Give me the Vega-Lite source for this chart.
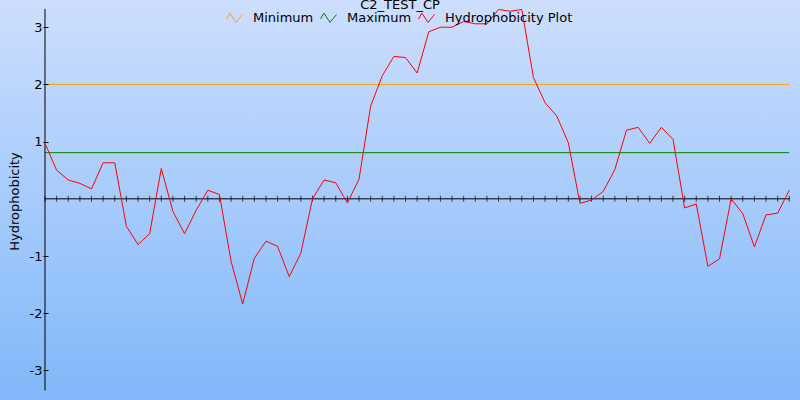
{
  "$schema": "https://vega.github.io/schema/vega-lite/v6.json",
  "width": 800,
  "height": 400,
  "padding": 0,
  "autosize": {"type": "none"},
  "background": "#80b8fa",
  "title": {
    "text": "C2_TEST_CP",
    "orient": "top",
    "anchor": "middle",
    "offset": -12,
    "fontSize": 13,
    "fontWeight": "normal",
    "font": "DejaVu Sans",
    "color": "#000000"
  },
  "config": {
    "view": {"stroke": null},
    "font": "DejaVu Sans"
  },
  "datasets": {
    "hydro": [
      {"pos": 0, "h": 0.97}, {"pos": 1, "h": 0.50}, {"pos": 2, "h": 0.33}, {"pos": 3, "h": 0.27},
      {"pos": 4, "h": 0.175}, {"pos": 5, "h": 0.63}, {"pos": 6, "h": 0.63}, {"pos": 7, "h": -0.48},
      {"pos": 8, "h": -0.80}, {"pos": 9, "h": -0.61}, {"pos": 10, "h": 0.53}, {"pos": 11, "h": -0.22},
      {"pos": 12, "h": -0.61}, {"pos": 13, "h": -0.20}, {"pos": 14, "h": 0.15}, {"pos": 15, "h": 0.075},
      {"pos": 16, "h": -1.09}, {"pos": 17, "h": -1.84}, {"pos": 18, "h": -1.04}, {"pos": 19, "h": -0.74},
      {"pos": 20, "h": -0.83}, {"pos": 21, "h": -1.36}, {"pos": 22, "h": -0.95}, {"pos": 23, "h": 0.0},
      {"pos": 24, "h": 0.33}, {"pos": 25, "h": 0.28}, {"pos": 26, "h": -0.07}, {"pos": 27, "h": 0.34},
      {"pos": 28, "h": 1.62}, {"pos": 29, "h": 2.15}, {"pos": 30, "h": 2.49}, {"pos": 31, "h": 2.47},
      {"pos": 32, "h": 2.20}, {"pos": 33, "h": 2.92}, {"pos": 34, "h": 3.0}, {"pos": 35, "h": 3.0},
      {"pos": 36, "h": 3.10}, {"pos": 37, "h": 3.06}, {"pos": 38, "h": 3.06}, {"pos": 39, "h": 3.31},
      {"pos": 40, "h": 3.28}, {"pos": 41, "h": 3.31}, {"pos": 42, "h": 2.12}, {"pos": 43, "h": 1.68},
      {"pos": 44, "h": 1.45}, {"pos": 45, "h": 0.98}, {"pos": 46, "h": -0.08}, {"pos": 47, "h": -0.02},
      {"pos": 48, "h": 0.13}, {"pos": 49, "h": 0.51}, {"pos": 50, "h": 1.20}, {"pos": 51, "h": 1.25},
      {"pos": 52, "h": 0.97}, {"pos": 53, "h": 1.25}, {"pos": 54, "h": 1.04}, {"pos": 55, "h": -0.16},
      {"pos": 56, "h": -0.09}, {"pos": 57, "h": -1.18}, {"pos": 58, "h": -1.05}, {"pos": 59, "h": 0.0},
      {"pos": 60, "h": -0.26}, {"pos": 61, "h": -0.84}, {"pos": 62, "h": -0.28}, {"pos": 63, "h": -0.25},
      {"pos": 64, "h": 0.15}
    ],
    "limits": [
      {"series": "Minimum", "value": 2},
      {"series": "Maximum", "value": 0.807}
    ],
    "one": [{}]
  },
  "layer": [
    {
      "data": {"name": "one"},
      "mark": {
        "type": "rect",
        "color": {
          "gradient": "linear",
          "x1": 0, "y1": 0, "x2": 0, "y2": 1,
          "stops": [
            {"offset": 0, "color": "#cddefd"},
            {"offset": 1, "color": "#80b8fa"}
          ]
        }
      },
      "encoding": {
        "x": {"datum": -3.869, "type": "quantitative", "scale": {"domain": [-3.869, 64.92], "nice": false, "zero": false}, "axis": null},
        "x2": {"datum": 64.92},
        "y": {
          "datum": -3.517,
          "type": "quantitative",
          "scale": {"domain": [-3.517, 3.476], "nice": false, "zero": false},
          "axis": {
            "title": "Hydrophobicity",
            "values": [-3, -2, -1, 1, 2, 3],
            "labelExpr": "'' + datum.value",
            "offset": -48,
            "zindex": 1,
            "domain": false,
            "grid": false,
            "ticks": true,
            "tickSize": 5,
            "tickColor": "#000000",
            "tickWidth": 1,
            "labelPadding": 1,
            "labelFont": "DejaVu Sans",
            "labelFontSize": 13,
            "labelColor": "#000000",
            "titleFont": "DejaVu Sans",
            "titleFontSize": 13,
            "titleFontWeight": "normal",
            "titleColor": "#000000",
            "titleAngle": -90,
            "titleAlign": "center",
            "titleBaseline": "alphabetic",
            "titleX": -29.5,
            "titleY": 201
          }
        },
        "y2": {"datum": 3.476}
      }
    },
    {
      "data": {"name": "limits"},
      "mark": {"type": "rule", "strokeWidth": 1},
      "encoding": {
        "x": {"datum": 0, "type": "quantitative"},
        "x2": {"datum": 64},
        "y": {"field": "value", "type": "quantitative"},
        "color": {
          "field": "series",
          "type": "nominal",
          "scale": {"domain": ["Minimum", "Maximum", "Hydrophobicity Plot"], "range": ["#ffa500", "#008000", "#ff0000"]},
          "legend": {
            "title": null,
            "orient": "none",
            "direction": "horizontal",
            "legendX": 226,
            "legendY": 9,
            "padding": 0,
            "symbolType": "M-1,0.15L-0.58,-0.58L0.19,0.58L1,-0.41",
            "symbolSize": 256,
            "symbolStrokeWidth": 1,
            "symbolFillColor": "transparent",
            "labelFont": "DejaVu Sans",
            "labelFontSize": 13,
            "labelColor": "#000000",
            "labelOffset": 10,
            "columnPadding": 4,
            "labelLimit": 300
          }
        }
      }
    },
    {
      "data": {"name": "one"},
      "mark": {"type": "rule", "color": "#000000", "strokeWidth": 1},
      "encoding": {
        "x": {"datum": 0, "type": "quantitative"},
        "x2": {"datum": 64},
        "y": {"datum": 0, "type": "quantitative"}
      }
    },
    {
      "data": {"name": "hydro"},
      "mark": {"type": "tick", "orient": "vertical", "size": 6, "thickness": 1, "color": "#000000"},
      "encoding": {
        "x": {"field": "pos", "type": "quantitative"},
        "y": {"datum": 0, "type": "quantitative"}
      }
    },
    {
      "data": {"name": "one"},
      "mark": {"type": "rule", "color": "#000000", "strokeWidth": 1},
      "encoding": {
        "x": {"datum": 0, "type": "quantitative"},
        "y": {"datum": 3.32, "type": "quantitative"},
        "y2": {"datum": -3.35}
      }
    },
    {
      "data": {"name": "hydro"},
      "mark": {"type": "line", "strokeWidth": 1},
      "encoding": {
        "x": {"field": "pos", "type": "quantitative"},
        "y": {"field": "h", "type": "quantitative"},
        "color": {"datum": "Hydrophobicity Plot", "type": "nominal"}
      }
    }
  ]
}
